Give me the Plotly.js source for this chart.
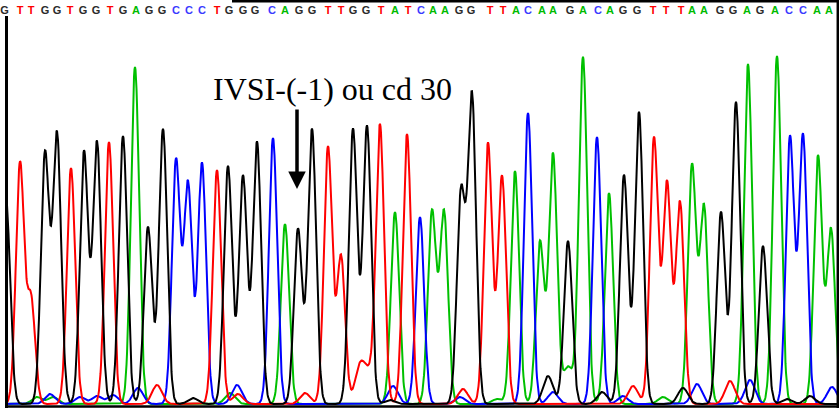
<!DOCTYPE html>
<html><head><meta charset="utf-8">
<script src="https://cdn.plot.ly/plotly-3.0.1.min.js"></script>
<style>html,body{margin:0;padding:0;background:#fff}#chart{width:839px;height:408px}</style>
</head><body><div id="chart"></div>
<script>
// Base-call sequence and letter positions (scan position)
const bases = ["G","T","T","G","G","T","G","G","T","G","A","G","G","C","C","C","T","G","G","G","C","A","G","G","T","T","G","G","T","A","T","C","A","A","G","G","T","T","A","C","A","A","G","A","C","A","G","G","T","T","T","A","A","G","G","A","G","A","C","C","A","A"];
const basePos = [4.5,20,31,45,57,70,83,96,110,123,136,149,162,176,189,202,217,229,243,255,272,285,299,312,328,341,353,366,381,395,408,421,433,445,459,471,490,503,516,528,542,553,570,583,598,610,623,637,653,666,681,692,704,720,733,747,760,775,789,803,817,829];

// Peaks per channel: scan position and signal height
const gPeakX = [6,45,57,84,97,123,148,163,193,228,243,257,298,312,353,367,390,461,472,548,568,602,624,639,683,721,736,763,787,810];
const gPeakH = [205,250,270,252,262,268,177,275,6,238,228,262,175,275,275,278,4,210,307,28,163,12,229,292,16,192,302,158,5,8];

const tPeakX = [20,31,71,109,157,217,238,305,328,341,360,369,380,407,463,488,502,633,654,667,680,730];
const tPeakH = [240,105,236,262,19,234,10,11,257,148,37,25,278,270,15,261,228,18,266,221,202,23];

const aPeakX = [37,53,135,230,285,395,432,444,497,515,540,553,568,583,609,663,692,704,748,777,818,831];
const aPeakH = [7,7,337,11,180,192,192,192,5,233,162,250,37,347,211,7,238,197,340,348,248,175];

const cPeakX = [50,80,97,113,138,176,188,202,237,273,393,420,460,528,553,597,623,697,750,790,803,832];
const cPeakH = [10,7,8,9,16,243,220,241,19,266,18,187,7,291,12,267,8,20,24,267,269,17];

const annotText = "IVSI-(-1) ou cd 30";

const baseColor = {G:"#2a2a2a", T:"#ff0000", A:"#00bb00", C:"#3a3aff"};

function trace(px, ph, color){
  const xs=[], ys=[];
  for(let x=0;x<=839;x+=0.5){
    let v=1;
    for(let i=0;i<px.length;i++){
      const s = ph[i] < 45 ? 5 : 4.1;
      const d=(x-px[i])/s;
      v += ph[i]*Math.exp(-0.5*d*d);
    }
    xs.push(x); ys.push(v);
  }
  return {x:xs,y:ys,type:"scatter",mode:"lines",line:{color:color,width:2},hoverinfo:"skip",showlegend:false};
}

const data = [
  trace(aPeakX,aPeakH,"#00c000"),
  trace(cPeakX,cPeakH,"#0000ff"),
  trace(tPeakX,tPeakH,"#ff0000"),
  trace(gPeakX,gPeakH,"#000000"),
  {x:basePos, y:basePos.map(()=>393.8), text:bases, type:"scatter", mode:"text",
   textfont:{family:"Liberation Sans, Arial, sans-serif", size:11, weight:"bold", color:bases.map(b=>baseColor[b])},
   cliponaxis:false, hoverinfo:"skip", showlegend:false}
];

const layout = {
  width:839, height:408,
  margin:{l:0,r:0,t:0,b:0,pad:0},
  paper_bgcolor:"#fff", plot_bgcolor:"#fff",
  xaxis:{range:[0,839],visible:false,fixedrange:true},
  yaxis:{range:[-3,405],visible:false,fixedrange:true},
  showlegend:false,
  shapes:[
    {type:"rect",xref:"x",yref:"y",x0:0,x1:5,y0:-3,y1:380,fillcolor:"#fff",line:{width:0},layer:"above"},
    {type:"line",xref:"x",yref:"y",x0:6.5,x1:6.5,y0:389,y1:-3,line:{color:"#000",width:3},layer:"above"},
    {type:"line",xref:"x",yref:"y",x0:5,x1:839,y0:-1.5,y1:-1.5,line:{color:"#000",width:2.5},layer:"above"},
    {type:"line",xref:"x",yref:"y",x0:837.8,x1:837.8,y0:405,y1:-3,line:{color:"#000",width:2.5},layer:"above"},
    {type:"line",xref:"x",yref:"y",x0:232,x1:839,y0:404,y1:404,line:{color:"#000",width:3},layer:"above"}
  ],
  annotations:[
    {x:332.5,y:316.5,xref:"x",yref:"y",text:annotText,showarrow:false,
     font:{family:"Liberation Serif, Times New Roman, serif",size:32,color:"#000"},xanchor:"center",yanchor:"middle"},
    {x:297,y:216,xref:"x",yref:"y",ax:297,ay:297,axref:"x",ayref:"y",text:"",showarrow:true,
     arrowhead:2,arrowsize:1,arrowwidth:3.5,arrowcolor:"#000",standoff:0,startstandoff:0}
  ]
};

Plotly.newPlot("chart",data,layout,{displayModeBar:false,staticPlot:true});
</script></body></html>
